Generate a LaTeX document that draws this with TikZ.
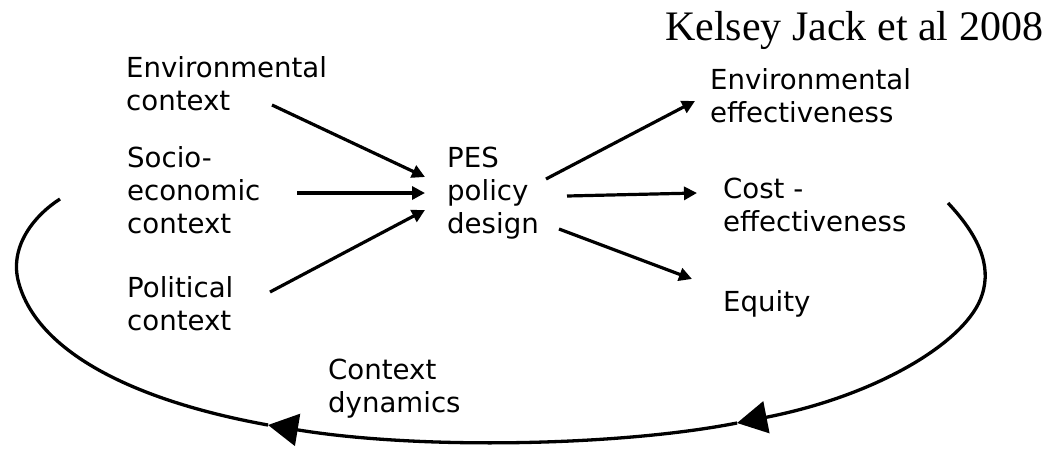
\documentclass[tikz,border=0pt]{standalone}
\usepackage{fontspec}
\setmainfont{DejaVu Sans}
\newfontfamily\titlefont{Liberation Serif}
\usetikzlibrary{arrows.meta}
\begin{document}
\begin{tikzpicture}[x=1pt,y=-1pt,
  lab/.style={anchor=base west, align=left, inner sep=0pt, font=\fontsize{27.6}{33}\selectfont},
  arr/.style={line width=3.2pt, -{Triangle[length=13pt,width=13pt]}},
  loopline/.style={line width=3.3pt},
  bigarr/.style={-{Triangle[length=30pt,width=32pt]}}
]
\useasboundingbox (0,0) rectangle (1056,448);

% anchors are on the baseline of the last line
\node[lab] (env) at (126,110) {Environmental\\context};
\node[lab] (soc) at (127,233) {Socio-\\economic\\context};
\node[lab] (pol) at (127,330) {Political\\context};
\node[lab] (pes) at (447,233) {PES\\policy\\design};
\node[lab] (envEff) at (710,122) {Environmental\\effectiveness};
\node[lab] (cost) at (723,231) {Cost -\\effectiveness};
\node[lab] (eq) at (723,311) {Equity};
\node[lab] (dyn) at (328,412) {Context\\dynamics};
\node[anchor=base west, inner sep=0pt, font=\titlefont\fontsize{42}{48}\selectfont] (title) at (665,40) {Kelsey Jack et al 2008};

\coordinate (envOut) at (272,105);
\coordinate (socOut) at (297,193);
\coordinate (polOut) at (270,292);
\coordinate (pesIn1) at (425,177);
\coordinate (pesIn2) at (425,193);
\coordinate (pesIn3) at (425,210);
\coordinate (pesOut1) at (546,179);
\coordinate (pesOut2) at (567,196);
\coordinate (pesOut3) at (559,229);
\coordinate (envEffIn) at (695,101);
\coordinate (costIn) at (697,193);
\coordinate (eqIn) at (692,279);

\draw[arr] (envOut) -- (pesIn1);
\draw[arr] (socOut) -- (pesIn2);
\draw[arr] (polOut) -- (pesIn3);
\draw[arr] (pesOut1) -- (envEffIn);
\draw[arr] (pesOut2) -- (costIn);
\draw[arr] (pesOut3) -- (eqIn);

% feedback loop
\coordinate (rStart) at (948,203);
\coordinate (rMid) at (982,295);
\coordinate (tipA) at (737,423);
\coordinate (tipB) at (268,425);
\coordinate (lMid) at (18,280);
\coordinate (lEnd) at (60,199);
\draw[loopline, bigarr] (rStart) .. controls (978,235) and (992,265) .. (rMid)
   .. controls (968,340) and (880,395) .. (tipA);
\draw[loopline, bigarr] (tipA) .. controls (620,446) and (420,450) .. (tipB);
\draw[loopline] (tipB) .. controls (130,400) and (35,350) .. (lMid)
   .. controls (10,245) and (35,215) .. (lEnd);
\end{tikzpicture}
\end{document}
